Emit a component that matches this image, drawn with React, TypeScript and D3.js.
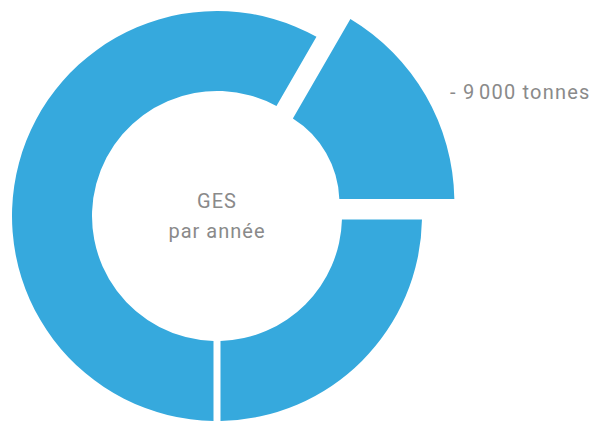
import React from "react";
import * as d3 from "d3";

// Data
const sliceNames = ["Réduction", "Émissions A", "Émissions B"];
const sliceValues = [9000, 13500, 31500];
const explodedIndex = 0;
const centerLines = ["GES", "par année"];
const reductionLabel = "- 9\u202F000 tonnes";

const W = 592;
const H = 424;
const BLUE = "#36a9dd";
const GRAY = "#8a8a8a";
const FONT = "Roboto, 'Noto Sans', sans-serif";

export default function App() {
  const cx = 217;
  const cy = 216;
  const start = Math.PI / 6;
  const pie = d3
    .pie<number>()
    .sort(null)
    .value((d) => d)
    .startAngle(start)
    .endAngle(start + 2 * Math.PI);
  const arcs = pie(sliceValues);

  const mainArc = d3
    .arc<d3.PieArcDatum<number>>()
    .innerRadius(125)
    .outerRadius(205)
    .padAngle(0.07)
    .padRadius(100);

  const explodedArc = d3
    .arc<d3.PieArcDatum<number>>()
    .innerRadius(99)
    .outerRadius(214)
    .padAngle(0.07)
    .padRadius(100);

  const explodeDist = 27;

  return (
    <svg
      width={W}
      height={H}
      style={{ position: "absolute", left: 0, top: 0, background: "#fff" }}
    >
      <g transform={`translate(${cx},${cy})`}>
        {arcs.map((a, i) => {
          if (i === explodedIndex) {
            const mid = (a.startAngle + a.endAngle) / 2;
            const dx = Math.sin(mid) * explodeDist;
            const dy = -Math.cos(mid) * explodeDist;
            return (
              <path
                key={sliceNames[i]}
                d={explodedArc(a) || ""}
                transform={`translate(${dx},${dy})`}
                fill={BLUE}
              />
            );
          }
          return <path key={sliceNames[i]} d={mainArc(a) || ""} fill={BLUE} />;
        })}
        <text
          textAnchor="middle"
          fill={GRAY}
          fontFamily={FONT}
          fontSize={20}
          letterSpacing={1}
        >
          <tspan x={0} y={-8}>{centerLines[0]}</tspan>
          <tspan x={0} y={22}>{centerLines[1]}</tspan>
        </text>
      </g>
      <text
        x={450}
        y={99}
        fill={GRAY}
        fontFamily={FONT}
        fontSize={20}
        letterSpacing={1.2}
      >
        {reductionLabel}
      </text>
    </svg>
  );
}
